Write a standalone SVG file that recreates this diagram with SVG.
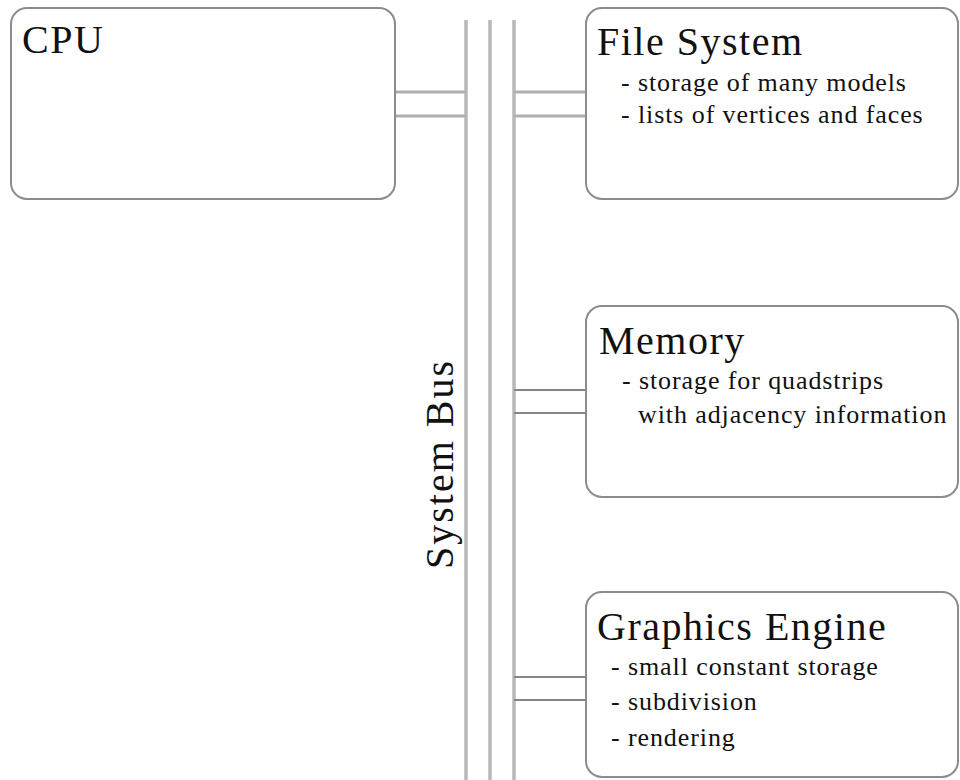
<svg xmlns="http://www.w3.org/2000/svg" width="960" height="780" viewBox="0 0 960 780">
  <style>
    .box { fill: #ffffff; stroke: #8c8c8c; stroke-width: 2; }
    .bus { stroke: #b8b8b8; stroke-width: 3.5; fill: none; }
    .wire { stroke: #b0b0b0; stroke-width: 3; fill: none; }
    .tap { stroke: #858585; stroke-width: 2; fill: none; }
    .title { font-family: "Liberation Serif", "DejaVu Serif", serif; font-size: 40px; letter-spacing: 1.5px; fill: #111; }
    .item { font-family: "Liberation Serif", "DejaVu Serif", serif; font-size: 26px; letter-spacing: 0.9px; fill: #111; }
  </style>
  <rect x="0" y="0" width="960" height="780" fill="#ffffff"/>

  <!-- system bus and its taps -->
  <g id="connectors">
    <line class="bus" x1="466" y1="20" x2="466" y2="780"/>
    <line class="bus" x1="490" y1="20" x2="490" y2="780"/>
    <line class="bus" x1="514" y1="20" x2="514" y2="780"/>
    <line class="wire" x1="395" y1="92" x2="466" y2="92"/>
    <line class="wire" x1="395" y1="116" x2="466" y2="116"/>
    <line class="wire" x1="514" y1="92" x2="586" y2="92"/>
    <line class="wire" x1="514" y1="116" x2="586" y2="116"/>
    <line class="tap" x1="514" y1="390" x2="586" y2="390"/>
    <line class="tap" x1="514" y1="413" x2="586" y2="413"/>
    <line class="tap" x1="514" y1="677" x2="586" y2="677"/>
    <line class="tap" x1="514" y1="700" x2="586" y2="700"/>
    <text class="title" style="letter-spacing:2px" transform="translate(453 464) rotate(-90)" text-anchor="middle">System Bus</text>
  </g>

  <g id="cpu">
    <rect class="box" x="11" y="8" width="384" height="191" rx="16"/>
    <text class="title" x="22" y="53">CPU</text>
  </g>

  <g id="file-system">
    <rect class="box" x="586" y="8" width="372" height="191" rx="16"/>
    <text class="title" x="597" y="55">File System</text>
    <text class="item" x="621" y="91">- storage of many models</text>
    <text class="item" x="621" y="123">- lists of vertices and faces</text>
  </g>

  <g id="memory">
    <rect class="box" x="586" y="306" width="372" height="191" rx="16"/>
    <text class="title" x="599" y="354">Memory</text>
    <text class="item" x="622" y="389">- storage for quadstrips</text>
    <text class="item" x="638" y="423">with adjacency information</text>
  </g>

  <g id="graphics-engine">
    <rect class="box" x="586" y="592" width="372" height="185" rx="16"/>
    <text class="title" x="597" y="640">Graphics Engine</text>
    <text class="item" x="611" y="675">- small constant storage</text>
    <text class="item" x="611" y="710">- subdivision</text>
    <text class="item" x="611" y="746">- rendering</text>
  </g>
</svg>
